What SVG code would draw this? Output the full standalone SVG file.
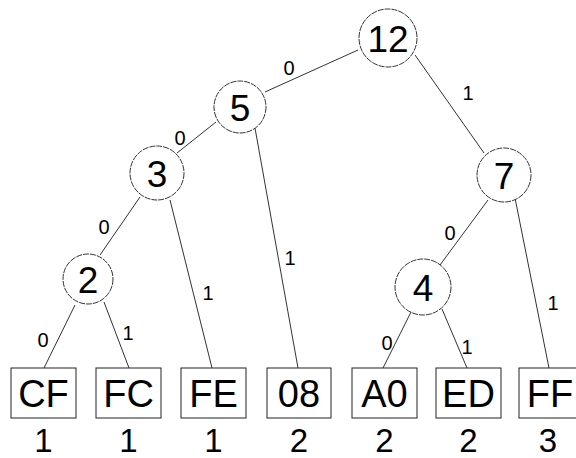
<svg xmlns="http://www.w3.org/2000/svg" width="576" height="458" viewBox="0 0 576 458">
<style>
.e{stroke:#333;stroke-width:1;fill:none}
.n circle{fill:#fff;stroke:#333;stroke-width:1;stroke-dasharray:6 1}
.n text{font-family:"Liberation Sans",Arial,sans-serif;font-size:37px;text-anchor:middle;fill:#000}
.l rect{fill:#fff;stroke:#222;stroke-width:1}
.l text{font-family:"Liberation Sans",Arial,sans-serif;font-size:38px;text-anchor:middle;fill:#000}
.c{font-family:"Liberation Sans",Arial,sans-serif;font-size:33px;text-anchor:middle;fill:#000}
.b{font-family:"Liberation Sans",Arial,sans-serif;font-size:20px;text-anchor:middle;fill:#000}
</style>
<rect width="576" height="458" fill="#fff"/>
<g id="connectors">
<line class="e" x1="358" y1="50" x2="265" y2="92"/>
<line class="e" x1="415" y1="55" x2="484" y2="153"/>
<line class="e" x1="216" y1="122" x2="177" y2="153"/>
<line class="e" x1="255" y1="128" x2="298" y2="368"/>
<line class="e" x1="140" y1="197" x2="100" y2="255"/>
<line class="e" x1="170" y1="200" x2="212" y2="368"/>
<line class="e" x1="75" y1="305" x2="44" y2="368"/>
<line class="e" x1="104" y1="302" x2="129" y2="368"/>
<line class="e" x1="488" y1="200" x2="440" y2="265"/>
<line class="e" x1="515" y1="198" x2="549" y2="368"/>
<line class="e" x1="411" y1="312" x2="383" y2="368"/>
<line class="e" x1="442" y1="309" x2="467" y2="368"/>
<text class="b" x="289" y="75">0</text>
<text class="b" x="468" y="100">1</text>
<text class="b" x="180" y="145">0</text>
<text class="b" x="104" y="234">0</text>
<text class="b" x="208" y="300">1</text>
<text class="b" x="290" y="265">1</text>
<text class="b" x="43" y="347">0</text>
<text class="b" x="128" y="340">1</text>
<text class="b" x="450" y="240">0</text>
<text class="b" x="553" y="310">1</text>
<text class="b" x="387" y="350">0</text>
<text class="b" x="467" y="354">1</text>
</g>
<g id="n12" class="n"><circle cx="388" cy="38" r="29"/><text x="388" y="52">12</text></g>
<g id="n5" class="n"><circle cx="240" cy="107" r="26"/><text x="240" y="121">5</text></g>
<g id="n3" class="n"><circle cx="157" cy="173" r="27"/><text x="157" y="187">3</text></g>
<g id="n2" class="n"><circle cx="88" cy="279" r="25"/><text x="88" y="293">2</text></g>
<g id="n7" class="n"><circle cx="504" cy="175" r="27"/><text x="504" y="189">7</text></g>
<g id="n4" class="n"><circle cx="423" cy="287" r="28"/><text x="423" y="301">4</text></g>
<g id="CF" class="l"><rect x="11" y="368" width="65" height="50"/><text x="43.5" y="407">CF</text></g>
<g id="FC" class="l"><rect x="96" y="368" width="65" height="50"/><text x="128.5" y="407">FC</text></g>
<g id="FE" class="l"><rect x="181" y="368" width="65" height="50"/><text x="213.5" y="407">FE</text></g>
<g id="b08" class="l"><rect x="267" y="368" width="64" height="50"/><text x="299" y="407">08</text></g>
<g id="A0" class="l"><rect x="352" y="368" width="65" height="50"/><text x="384.5" y="407">A0</text></g>
<g id="ED" class="l"><rect x="436" y="368" width="65" height="50"/><text x="468.5" y="407">ED</text></g>
<g id="FF" class="l"><rect x="519" y="368" width="65" height="50"/><text x="550" y="407">FF</text></g>
<g id="counts">
<text class="c" x="43.5" y="452">1</text>
<text class="c" x="128.5" y="452">1</text>
<text class="c" x="213.5" y="452">1</text>
<text class="c" x="299" y="452">2</text>
<text class="c" x="384.5" y="452">2</text>
<text class="c" x="468.5" y="452">2</text>
<text class="c" x="548" y="452">3</text>
</g>
</svg>
